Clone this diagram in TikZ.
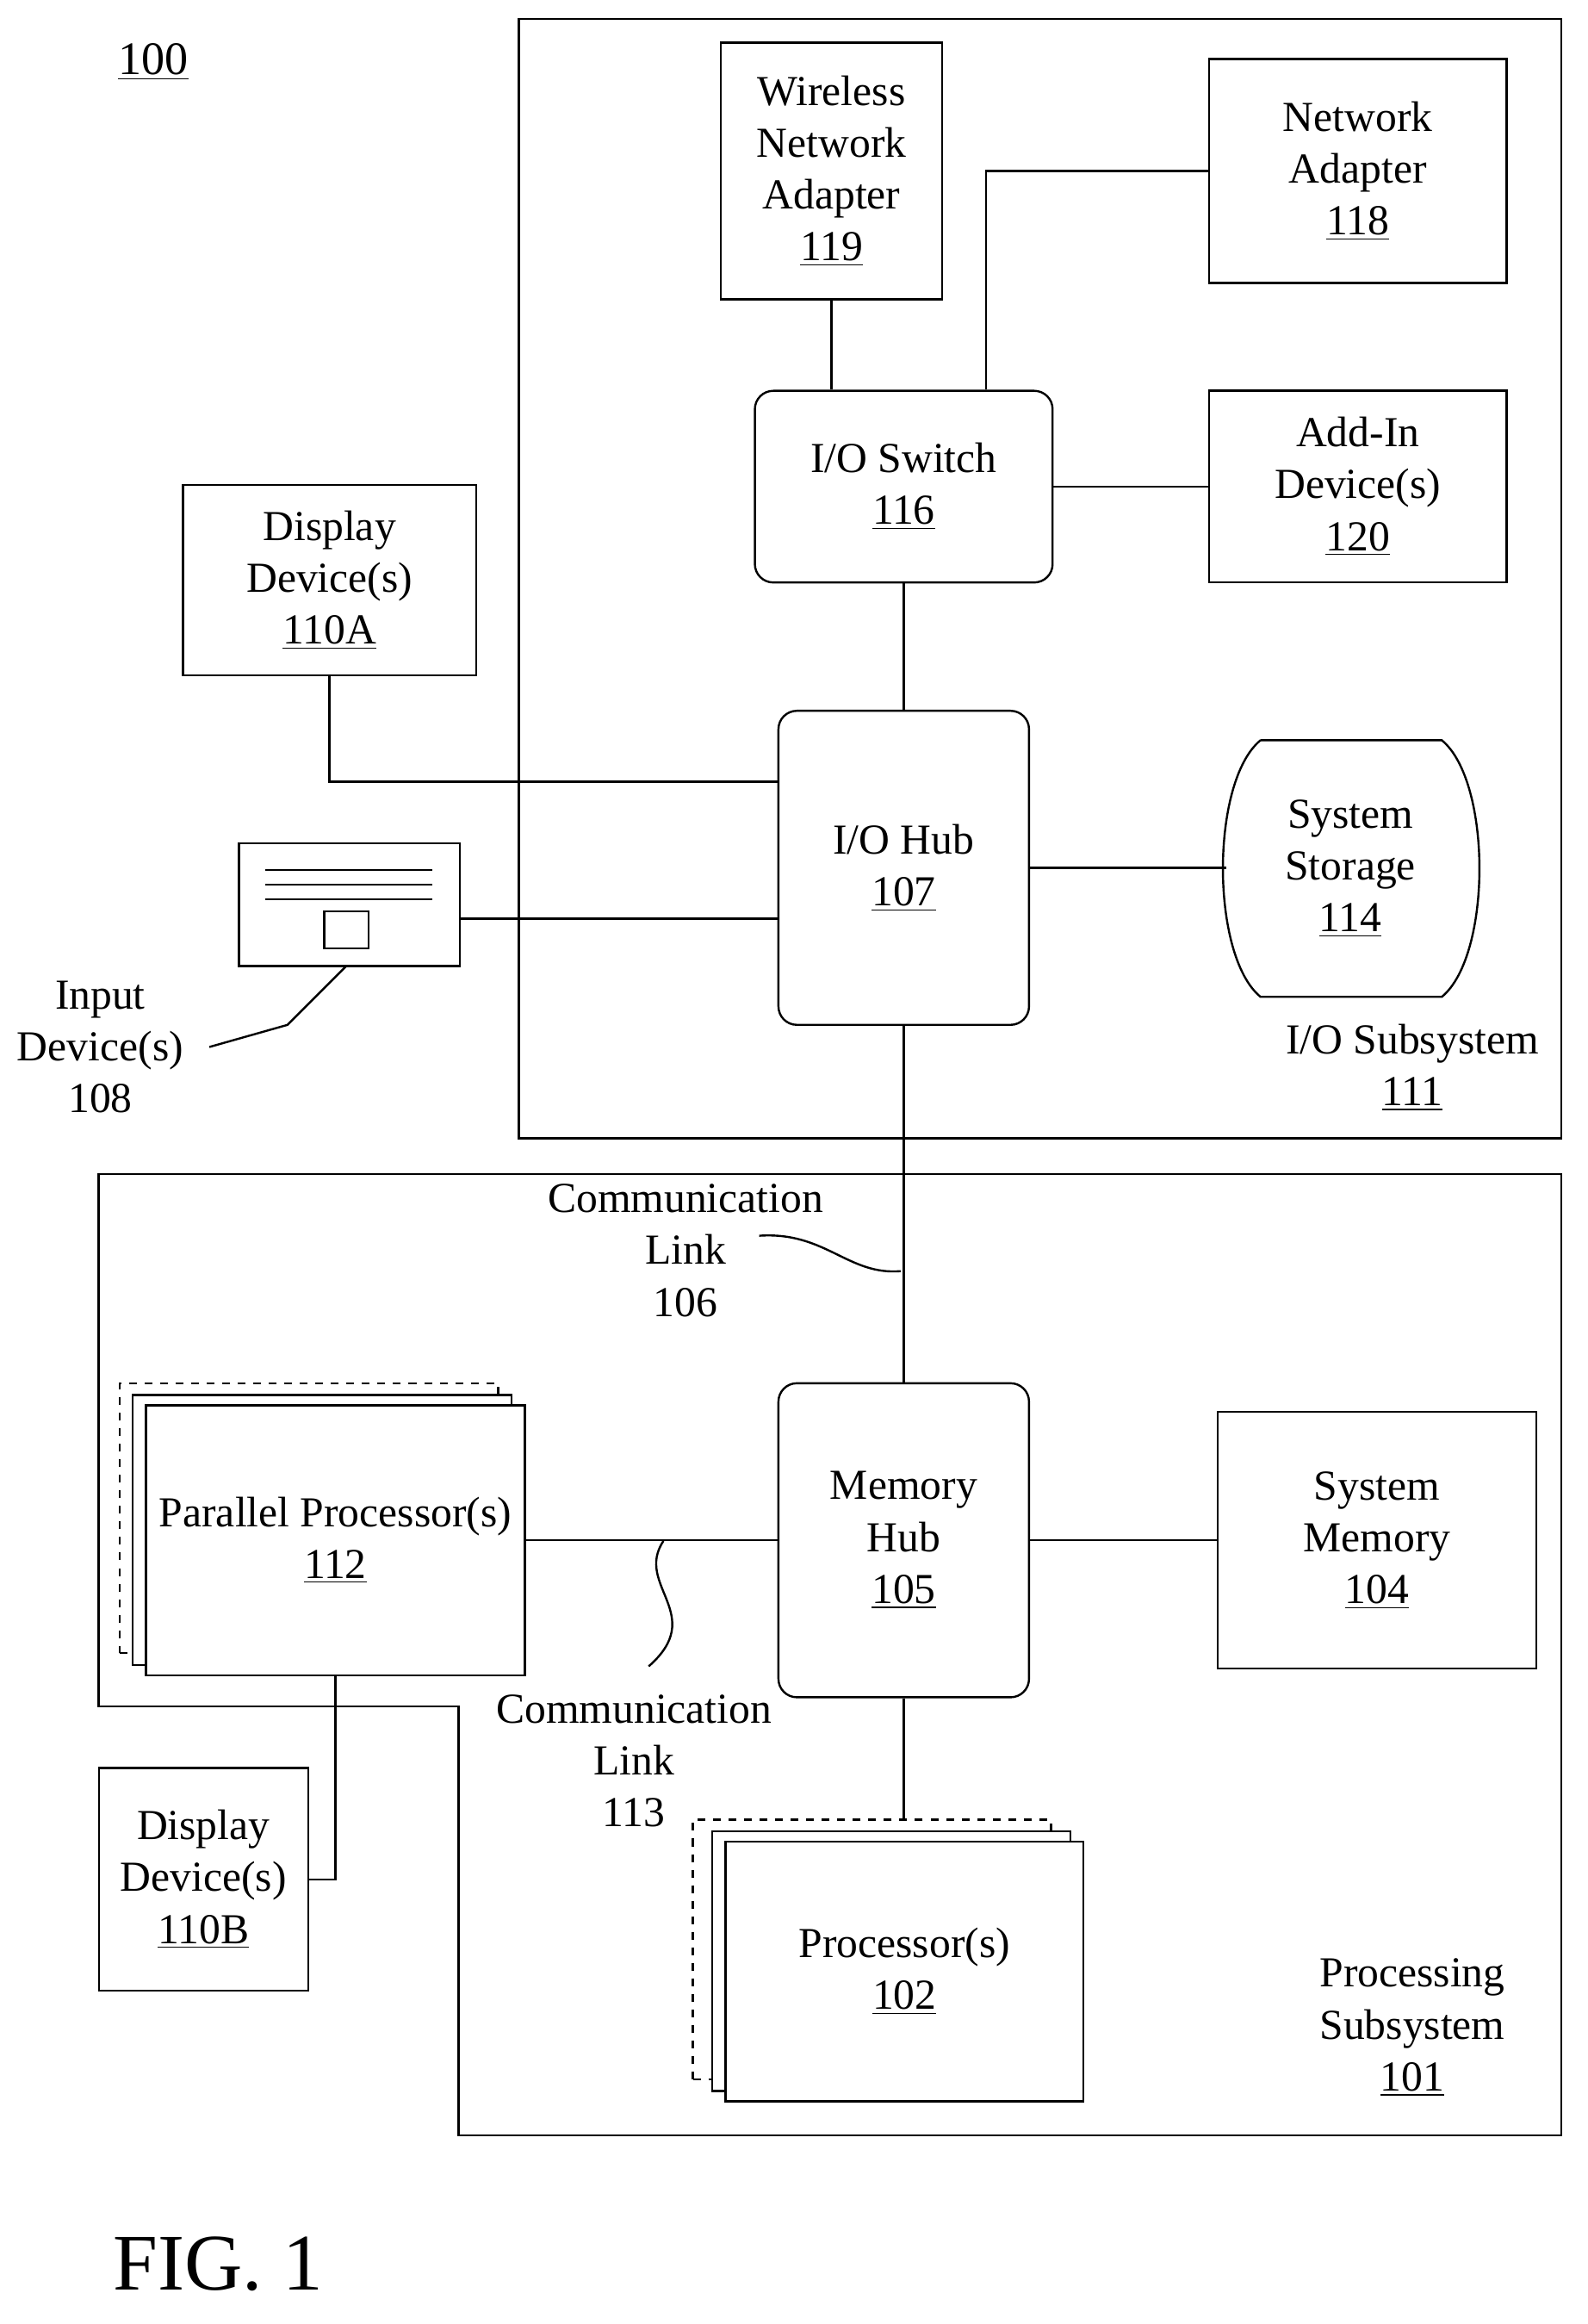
\documentclass[tikz,border=0pt]{standalone}
\usepackage{fontspec}
\setmainfont{Liberation Serif}
\usetikzlibrary{positioning, calc}

\tikzset{
  box/.style={draw, thick, fill=white, align=center, inner sep=0pt},
  rbox/.style={box, rounded corners=0.25cm},
  lbl/.style={align=center},
  link/.style={thick}
}
\newcommand{\ul}[1]{\underline{#1}}

\begin{document}
\begin{tikzpicture}[x=0.02cm, y=-0.02cm, font=\fontsize{16.5}{20}\selectfont]
  \useasboundingbox (0,0) rectangle (1077,1576);
  \node[lbl, font=\fontsize{18}{20}\selectfont] (fig100) at (104,42) {\ul{100}};

  % Subsystem outlines
  \draw[thick] (352,13) rectangle (1059,772); % I/O subsystem
  \draw[thick] (67,796) -- (1059,796) -- (1059,1448) -- (311,1448)
     -- (311,1157) -- (67,1157) -- cycle; % Processing subsystem

  % I/O side
  \node[box, minimum width=3cm, minimum height=3.48cm] (wna119) at (564,116)
     {Wireless\\Network\\Adapter\\\ul{119}};
  \node[box, minimum width=4.04cm, minimum height=3.04cm] (na118) at (921,116)
     {Network\\Adapter\\\ul{118}};
  \node[rbox, minimum width=4.04cm, minimum height=2.6cm] (sw116) at (613,330)
     {I/O Switch\\\ul{116}};
  \node[box, minimum width=4.04cm, minimum height=2.6cm] (add120) at (921,330)
     {Add-In\\Device(s)\\\ul{120}};
  \node[box, minimum width=3.98cm, minimum height=2.58cm] (dd110a) at (223.5,393.5)
     {Display\\Device(s)\\\ul{110A}};
  \node[rbox, minimum width=3.4cm, minimum height=4.26cm] (hub107) at (613,588.5)
     {I/O Hub\\\ul{107}};

  % System storage
  \draw[thick] (855,502) -- (978,502) .. controls (1012,530) and (1012,648) .. (978,676)
     -- (855,676) .. controls (821,648) and (821,530) .. (855,502);
  \coordinate (stor114) at (832,588.5);
  \node[lbl] (stortxt) at (916,589) {System\\Storage\\\ul{114}};

  % Input device
  \node[box, minimum width=3cm, minimum height=1.66cm] (input108) at (237,613.5) {};
  \foreach \yy in {590,600,610} \draw[thick] (180,\yy) -- (293,\yy);
  \draw[thick] (220,618) rectangle (250,643);
  \node[lbl] (inlbl) at (68,710) {Input\\Device(s)\\108};
  \draw[thick] (235,655) -- (195,695) -- (142,710);

  \node[lbl] (io111) at (958,724) {I/O Subsystem\\\ul{111}};

  \draw[link] (wna119.south) -- (wna119.south |- sw116.north);
  \draw[link] ([xshift=1.12cm]sw116.north) |- (na118.west);
  \draw[link] (sw116.east) -- (add120.west);
  \draw[link] (sw116.south) -- (hub107.north);
  \draw[link] (dd110a.south) |- ([yshift=1.17cm]hub107.west);
  \draw[link] ([yshift=-0.19cm]input108.east) -- ([yshift=-0.19cm]input108.east -| hub107.west);
  \draw[link] (hub107.east |- stor114) -- (stor114);

  % Processing side
  \node[rbox, minimum width=3.4cm, minimum height=4.26cm] (mhub105) at (613,1044.5)
     {Memory\\Hub\\\ul{105}};
  \node[box, minimum width=4.32cm, minimum height=3.48cm] (mem104) at (934,1044.5)
     {System\\Memory\\\ul{104}};
  \node[box, dashed, minimum width=5.14cm, minimum height=3.66cm] (pp112c) at (209.5,1029.5) {};
  \node[box, minimum width=5.14cm, minimum height=3.66cm] (pp112b) at (218.5,1037.5) {};
  \node[box, minimum width=5.14cm, minimum height=3.66cm] (pp112) at (227.5,1044.5)
     {Parallel Processor(s)\\\ul{112}};
  \node[box, minimum width=2.84cm, minimum height=3.02cm] (dd110b) at (138,1274.5)
     {Display\\Device(s)\\\ul{110B}};
  \node[box, dashed, minimum width=4.86cm, minimum height=3.52cm] (proc102c) at (591.5,1322) {};
  \node[box, minimum width=4.86cm, minimum height=3.52cm] (proc102b) at (604.5,1330) {};
  \node[box, minimum width=4.86cm, minimum height=3.52cm] (proc102) at (613.5,1337)
     {Processor(s)\\\ul{102}};

  \draw[link] (hub107.south) -- (mhub105.north);
  \draw[link] (mhub105.east) -- (mem104.west);
  \draw[link] (mhub105.west) -- (pp112.east);
  \draw[link] (mhub105.south) -- (mhub105.south |- proc102c.north);
  \draw[link] (pp112.south) |- (dd110b.east);

  % Link labels
  \node[lbl] (cl106) at (465,848) {Communication\\Link\\106};
  \draw[thick] (515,838) .. controls (560,835) and (575,865) .. (611,862);
  \node[lbl] (cl113) at (430,1194) {Communication\\Link\\113};
  \draw[thick] (450,1045) .. controls (430,1075) and (480,1095) .. (440,1130);

  \node[lbl] (ps101) at (958,1375) {Processing\\Subsystem\\\ul{101}};
  \node[font=\fontsize{31}{34}\selectfont] (fig1) at (148,1535) {FIG. 1};
\end{tikzpicture}
\end{document}
